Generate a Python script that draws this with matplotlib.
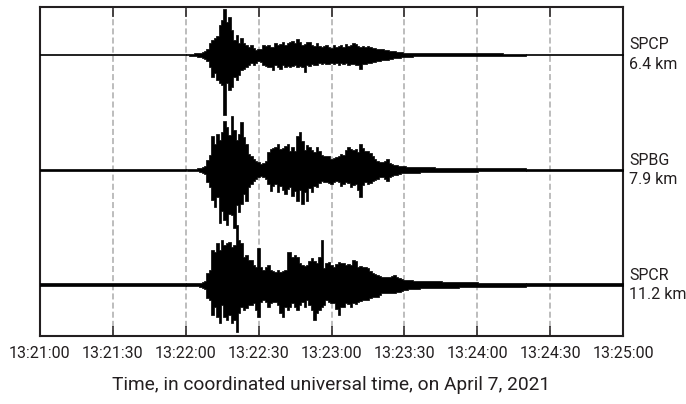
import numpy as np
import matplotlib
matplotlib.use("Agg")
import matplotlib.pyplot as plt
from matplotlib.transforms import blended_transform_factory

plt.rcParams['font.family'] = ['Roboto', 'DejaVu Sans']

# ---------------- data ----------------
stations = ["SPCP", "SPBG", "SPCR"]
distances = ["6.4 km", "7.9 km", "11.2 km"]
tick_seconds = [0, 30, 60, 90, 120, 150, 180, 210, 240]   # seconds after 13:21:00
tick_labels = ["13:21:00", "13:21:30", "13:22:00", "13:22:30", "13:23:00",
               "13:23:30", "13:24:00", "13:24:30", "13:25:00"]
xlabel = "Time, in coordinated universal time, on April 7, 2021"

# envelope sample times (s after 13:21:00), 1-s samples from 60 to 200
t_start, t_end = 60, 200

# quiet background noise amplitude (outside the sampled window)
quiet_level = [0.8, 0.9, 1.5]

# upper (positive) and lower (downward) envelope amplitudes read from the record
spcp_up = [0.8, 0.8, 1, 1, 1.5, 2, 2, 3, 3.5, 6,
           12, 15, 17, 19, 30, 35, 46, 33, 38, 25,
           15, 20, 12, 17, 12, 10, 8, 10, 7, 5,
           6, 6, 10, 9, 10, 8, 8, 12, 10, 11,
           13, 10, 12, 13, 14, 12, 16, 13, 10, 11,
           13, 13, 10, 9, 12, 9, 8, 9, 10, 8,
           7, 10, 8, 9, 10, 8, 11, 9, 10, 12,
           11, 9, 8, 9, 8, 9, 8, 7, 7, 6,
           6, 6, 5, 5, 4, 4, 3.5, 3, 3, 2.5, 2,
           2, 2, 2, 1.8, 1.8, 1.8, 1.7, 1.7, 1.6, 1.6,
           1.5, 1.5, 1.5, 1.5, 1.5, 1.5, 1.5, 1.5, 1.5, 1.5,
           1.4, 1.4, 1.4, 1.4, 1.4, 1.4, 1.4, 1.4, 1.4, 1.4,
           1.2, 1.2, 1.2, 1.2, 1.2, 1.2, 1.2, 1.2, 1.2, 1.2,
           1, 1, 1, 1, 1, 1, 1, 1, 1, 1]
spcp_dn = [0.8, 0.8, 1, 1, 1.5, 2, 2.5, 3, 4, 6,
           12, 22, 18, 25, 28, 30, 60, 28, 35, 32,
           22, 25, 20, 15, 14, 12, 10, 8, 10, 8,
           6, 7, 10, 11, 12, 12, 15, 10, 12, 14,
           10, 12, 11, 12, 11, 10, 12, 11, 12, 17,
           10, 11, 9, 10, 10, 8, 9, 8, 9, 9,
           8, 9, 8, 10, 8, 9, 8, 10, 9, 9,
           10, 10, 14, 9, 9, 8, 8, 7, 7, 6,
           6, 5, 5, 5, 4, 4, 3.5, 3, 3, 2.5, 2,
           2, 2, 2, 1.8, 1.8, 1.8, 1.7, 1.7, 1.6, 1.6,
           1.5, 1.5, 1.5, 1.5, 1.5, 1.5, 1.5, 1.5, 1.5, 1.5,
           1.4, 1.4, 1.4, 1.4, 1.4, 1.4, 1.4, 1.4, 1.4, 1.4,
           1.2, 1.2, 1.2, 1.2, 1.2, 1.2, 1.2, 1.2, 1.2, 1.2,
           1, 1, 1, 1, 1, 1, 1, 1, 1, 1]

spbg_up = [0.7, 0.8, 0.8, 1, 1, 1.5, 2, 3, 4, 10,
           14.5, 34, 26, 36, 30, 38, 49, 43, 35, 54,
           40, 30, 36, 48, 33, 26, 16, 14, 11, 9,
           8, 6, 7, 9, 18, 21, 22, 23, 26, 21,
           22, 24, 26, 19, 23, 19, 34, 38, 29, 20,
           25, 23, 20, 18, 23, 19, 15, 14, 14, 14,
           11, 12, 13, 14, 16, 15, 20, 23, 21, 20,
           21, 18, 26, 22, 19, 19, 17, 14, 11, 9,
           8, 8, 9, 11, 7, 6, 5, 5, 4, 4, 3.5,
           3, 3, 3, 3, 2.8, 2.8, 2.6, 2.6, 2.5, 2.5,
           2.3, 2.3, 2.2, 2.2, 2, 2, 2, 2, 2, 2,
           1.8, 1.8, 1.8, 1.8, 1.8, 1.8, 1.8, 1.8, 1.8, 1.8,
           1.5, 1.5, 1.5, 1.5, 1.5, 1.5, 1.5, 1.5, 1.5, 1.5,
           1.3, 1.3, 1.3, 1.3, 1.3, 1.3, 1.3, 1.3, 1.3, 1.3]
spbg_dn = [0.7, 0.8, 0.8, 1, 1, 1.5, 2, 3, 4, 12,
           17, 30, 37, 27, 53, 41, 50, 55, 44, 45,
           58, 35, 42, 34, 24, 31, 17, 14, 11, 9,
           7, 6, 7, 9, 14, 21, 16, 14, 22, 16,
           20, 24, 19, 17, 26, 21, 31, 20, 34, 22,
           31, 18, 22, 16, 17, 13, 11, 12, 12, 13,
           14, 12, 11, 12, 16, 14, 12, 13, 17, 15,
           14, 20, 27, 15, 12, 14, 13, 11, 10, 9,
           7, 7, 9, 11, 7, 6, 5, 5, 4, 3, 3,
           3, 3, 3, 3, 2.8, 2.8, 2.6, 2.6, 2.5, 2.5,
           2.3, 2.3, 2.2, 2.2, 2, 2, 2, 2, 2, 2,
           1.8, 1.8, 1.8, 1.8, 1.8, 1.8, 1.8, 1.8, 1.8, 1.8,
           1.5, 1.5, 1.5, 1.5, 1.5, 1.5, 1.5, 1.5, 1.5, 1.5,
           1.3, 1.3, 1.3, 1.3, 1.3, 1.3, 1.3, 1.3, 1.3, 1.3]

spcr_up = [1.5, 1.5, 1.5, 1.5, 1.5, 1.5, 2, 3, 4, 12,
           15, 35, 33, 42, 35, 45, 40, 42, 43, 38,
           40, 60, 45, 42, 28, 30, 25, 25, 20, 18,
           37, 18, 15, 18, 20, 15, 14, 13, 15, 13,
           14, 15, 33, 33, 28, 30, 28, 22, 20, 19,
           20, 24, 27, 24, 22, 28, 45, 17, 22, 23,
           20, 18, 21, 23, 22, 22, 20, 21, 20, 25,
           24, 18, 19, 18, 18, 17, 14, 12, 11, 10,
           9, 8, 8, 8, 8, 9, 10, 8, 7, 6, 5,
           5, 4.5, 4.5, 4, 4, 4, 3.5, 3.5, 3.5, 3.5,
           3.5, 3.5, 3.5, 3.5, 3.5, 3, 3, 3, 3, 3,
           3, 3, 2.5, 2.5, 2.5, 2.5, 2.5, 2.5, 2.5, 2.5,
           2, 2, 2, 2, 2, 2, 2, 2, 2, 2,
           2, 2, 2, 2, 2, 2, 2, 2, 2, 2]
spcr_dn = [1.5, 1.5, 1.5, 1.5, 1.5, 1.5, 2, 3, 4, 13,
           15, 30, 22, 32, 38, 20, 32, 35, 30, 38,
           35, 47, 28, 22, 25, 23, 20, 20, 18, 25,
           32, 17, 15, 17, 22, 18, 17, 17, 20, 28,
           32, 22, 25, 22, 18, 22, 25, 20, 17, 22,
           15, 20, 25, 35, 28, 25, 22, 20, 15, 17,
           18, 18, 24, 30, 22, 22, 18, 19, 22, 18,
           19, 17, 16, 15, 15, 15, 13, 12, 12, 12,
           10, 8, 8, 8, 8, 8, 8, 7, 7, 6, 5,
           5, 4.5, 4.5, 4, 4, 4, 3.5, 3.5, 3.5, 3.5,
           3.5, 3.5, 3.5, 3.5, 3.5, 3, 3, 3, 3, 3,
           3, 3, 2.5, 2.5, 2.5, 2.5, 2.5, 2.5, 2.5, 2.5,
           2, 2, 2, 2, 2, 2, 2, 2, 2, 2,
           2, 2, 2, 2, 2, 2, 2, 2, 2, 2]

uppers = [spcp_up, spbg_up, spcr_up]
lowers = [spcp_dn, spbg_dn, spcr_dn]

# ---------------- layout / style ----------------
W, H, DPI = 686, 404, 100
trace_gap = 115.0
ink = '#231f20'
fig = plt.figure(figsize=(W / DPI, H / DPI), dpi=DPI)
ax = fig.add_axes([40 / W, 1 - 336 / H, (623 - 40) / W, (336 - 7) / H])

t = np.arange(t_start, t_end + 1)
for i in range(3):
    off = -trace_gap * i
    up = np.asarray(uppers[i], dtype=float)
    dn = np.asarray(lowers[i], dtype=float)
    q = quiet_level[i]
    # quiet background before/after the sampled window
    ax.fill_between([0, t_start], off + q, off - q, color='black', lw=0.5, zorder=3)
    ax.fill_between([t_end, 240], off + q, off - q, color='black', lw=0.5, zorder=3)
    ax.fill_between(t, off + up, off - dn, color='black', lw=0.5, step='mid', zorder=3)

ax.set_xlim(tick_seconds[0], tick_seconds[-1])
ax.set_ylim(-2 * trace_gap - 51, 47.5)
ax.set_xticks(tick_seconds)
ax.set_xticklabels(tick_labels, fontsize=11.5)
ax.set_yticks([])
ax.tick_params(axis='x', direction='in', length=7, width=1.1, top=True,
               labeltop=False, pad=7, colors=ink, labelcolor=ink)
ax.grid(axis='x', color='#bdbdbd', lw=1.4, linestyle=(0, (3.1, 1.6)))
ax.set_axisbelow(True)
for s in ax.spines.values():
    s.set_linewidth(1.5)
    s.set_color(ink)

trans = blended_transform_factory(ax.transAxes, ax.transData)
for i in range(3):
    ax.text((629 - 40) / (623 - 40), -trace_gap * i, stations[i] + "\n" + distances[i],
            transform=trans, ha='left', va='center', fontsize=11.5,
            linespacing=1.35, color=ink)

fig.text((40 + 623) / 2 / W, 1 - 385 / H, xlabel, ha='center', va='center',
         fontsize=13.8, color=ink)

fig.savefig("out.png", dpi=DPI)
